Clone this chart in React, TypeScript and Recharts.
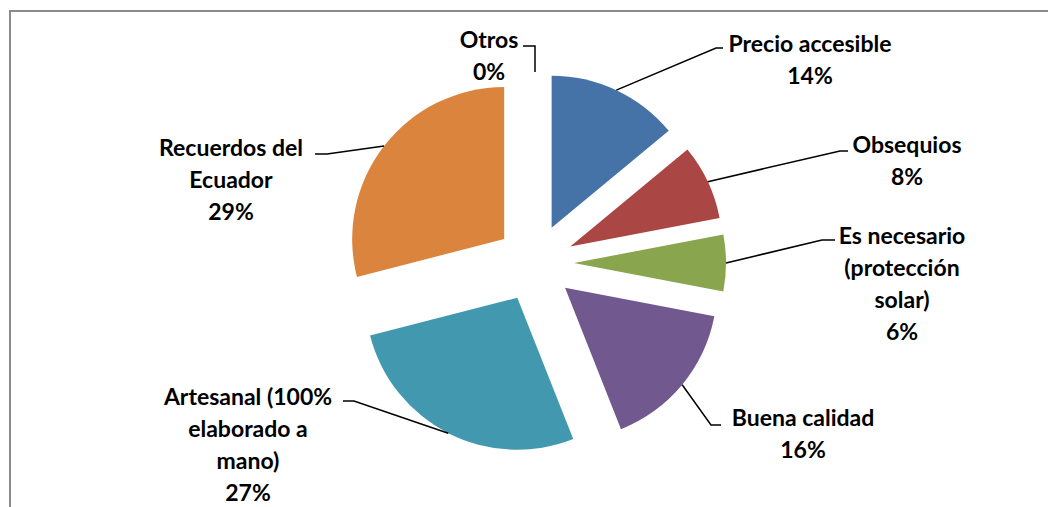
import { PieChart, Pie, Cell, Sector } from "recharts";

// categories and shares (percent), clockwise from 12 o'clock
const categories = [
  "Precio accesible",
  "Obsequios",
  "Es necesario (protección solar)",
  "Buena calidad",
  "Artesanal (100% elaborado a mano)",
  "Recuerdos del Ecuador",
  "Otros",
];
const shares = [14, 8, 6, 16, 27, 29, 0];
const colors = ["#4572A7", "#AA4643", "#89A54E", "#71588F", "#4198AF", "#DB843D", "#93A9CF"];

// how each category name wraps in its label
const labelLines = [
  ["Precio accesible"],
  ["Obsequios"],
  ["Es necesario", "(protección", "solar)"],
  ["Buena calidad"],
  ["Artesanal (100%", "elaborado a", "mano)"],
  ["Recuerdos del", "Ecuador"],
  ["Otros"],
];

// label placement: text centre x, first line middle y, leader elbow and end
const labelLayout = [
  { x: 810, y: 44, elbow: [716, 48], end: [723, 48] },
  { x: 907, y: 145, elbow: [840, 151], end: [848, 151] },
  { x: 902, y: 236, elbow: [822, 240], end: [835, 240] },
  { x: 803, y: 418, elbow: [711, 425], end: [721, 425] },
  { x: 248, y: 397, elbow: [354, 401], end: [343, 401] },
  { x: 231, y: 148, elbow: [327, 154], end: [315, 154] },
  { x: 489, y: 40, elbow: [535, 46], end: [523, 46] },
];

const EXPLODE = 39;
const RAD = Math.PI / 180;
const FONT = 23;
const LINE_H = 32;

const chartData = categories.map((name, i) => ({ name, value: shares[i] }));

const ExplodedSector = (props: any) => {
  const { cx, cy, midAngle } = props;
  return (
    <Sector
      {...props}
      cx={cx + EXPLODE * Math.cos(-midAngle * RAD)}
      cy={cy + EXPLODE * Math.sin(-midAngle * RAD)}
    />
  );
};

const renderLabel = (props: any) => {
  const { cx, cy, midAngle, outerRadius, percent, index } = props;
  const lay = labelLayout[index];
  const r = EXPLODE + outerRadius;
  const ox = cx + r * Math.cos(-midAngle * RAD);
  const oy = cy + r * Math.sin(-midAngle * RAD);
  const lines = [...labelLines[index], `${Math.round(percent * 100)}%`];
  return (
    <g key={`lbl-${index}`}>
      <polyline
        points={`${ox},${oy} ${lay.elbow[0]},${lay.elbow[1]} ${lay.end[0]},${lay.end[1]}`}
        fill="none"
        stroke="#000"
        strokeWidth={1.5}
      />
      <text textAnchor="middle" fontFamily="Lato" fontWeight="bold" fontSize={FONT} fill="#000">
        {lines.map((l, k) => (
          <tspan key={k} x={lay.x} y={lay.y + k * LINE_H + FONT * 0.36}>
            {l}
          </tspan>
        ))}
      </text>
    </g>
  );
};

const App = () => {
  return (
    <div style={{ position: "absolute", left: 0, top: 0, width: 1048, height: 507, overflow: "hidden", background: "#fff" }}>
      <div
        style={{
          position: "absolute",
          left: 9,
          top: 10,
          width: 1100,
          height: 600,
          borderLeft: "2px solid #8a8a8a",
          borderTop: "2px solid #8a8a8a",
        }}
      />
      <div style={{ position: "absolute", left: 0, top: 0 }}>
        <PieChart width={1048} height={507} margin={{ top: 0, right: 0, bottom: 0, left: 0 }}>
          <Pie
            data={chartData}
            dataKey="value"
            nameKey="name"
            cx={535}
            cy={263}
            outerRadius={152}
            startAngle={90}
            endAngle={-270}
            stroke="none"
            labelLine={false}
            label={renderLabel}
            shape={ExplodedSector}
            isAnimationActive={false}
          >
            {chartData.map((d, i) => (
              <Cell key={d.name} fill={colors[i]} />
            ))}
          </Pie>
        </PieChart>
      </div>
    </div>
  );
};

export default App;
